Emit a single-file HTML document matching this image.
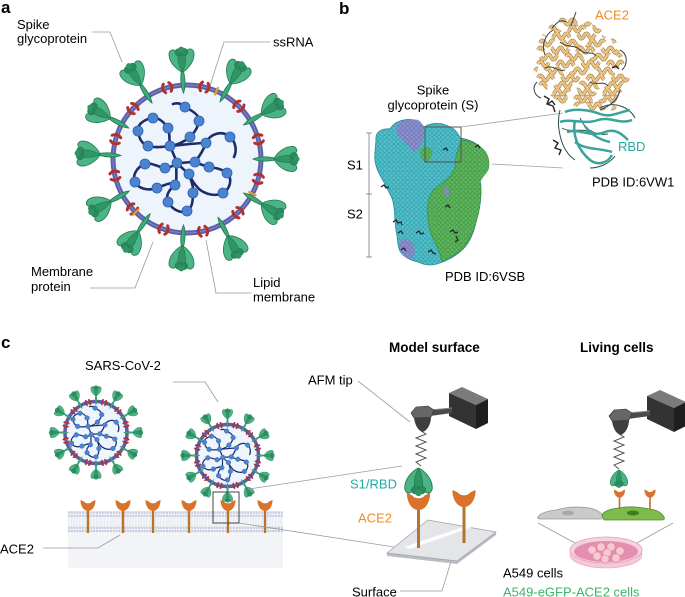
<!DOCTYPE html>
<html><head><meta charset="utf-8"><style>
html,body{margin:0;padding:0;background:#fff;}
svg{display:block;}
text{font-family:"Liberation Sans",Arial,sans-serif;}
</style></head><body>
<svg width="685" height="597" viewBox="0 0 685 597" xmlns="http://www.w3.org/2000/svg" xmlns:xlink="http://www.w3.org/1999/xlink">
<defs>
 <g id="shead">
  <path d="M0,-13 C-3,-14 -12,-21 -12.5,-30 C-13,-35 -9,-37 -6.5,-35 C-4,-33 -2,-30 0,-30 C2,-30 4,-33 6.5,-35 C9,-37 13,-35 12.5,-30 C12,-21 3,-14 0,-13Z" fill="#4cb385" stroke="#1f7a50" stroke-width="0.8"/>
  <path d="M0,-13 C-3,-18 -4.5,-26 -3.5,-31 L3.5,-31 C4.5,-26 3,-18 0,-13Z" fill="#2f9466" stroke="#1f7a50" stroke-width="0.6"/>
  <circle cx="-2.8" cy="-33" r="3.6" fill="#2a8a5e" stroke="#1f7a50" stroke-width="0.6"/>
  <circle cx="2.8" cy="-33" r="3.6" fill="#2a8a5e" stroke="#1f7a50" stroke-width="0.6"/>
  <circle cx="0" cy="-35.5" r="3" fill="#2f9466"/>
 </g>
 <g id="spk">
  <path d="M0,8 C2.6,2 3,-8 0,-18 C-3,-8 -2.6,2 0,8Z" fill="#3faa78" stroke="#1f7a50" stroke-width="0.8"/>
  <use xlink:href="#shead" href="#shead"/>
 </g>
 <g id="mp" fill="none" stroke="#b3302b" stroke-width="2.9" stroke-linecap="round">
  <path d="M-2.8,-4.5 C-5.2,-2 -5.2,2 -2.8,4.5"/>
  <path d="M2.8,-4.5 C5.2,-2 5.2,2 2.8,4.5"/>
 </g>
 <rect id="ep" x="-1.1" y="-4.5" width="2.2" height="9" fill="#e89a2c"/>
 <g id="rna">
  <g fill="none" stroke="#1f2a6b" stroke-width="2.6" stroke-linecap="round">
   <path d="M-14,-55 C-8,-57 -4,-54 -2,-52 C6,-48 13,-43 12,-38 C11,-31 7,-26 3,-22 C-3,-17 -10,-14 -17,-13"/>
   <path d="M-17,-13 C-18,-20 -17,-27 -19,-31 C-23,-37 -29,-42 -34,-41 C-42,-40 -50,-35 -49,-28 C-48,-20 -45,-15 -39,-13 C-32,-11 -24,-12 -17,-13"/>
   <path d="M-17,-13 C-5,-14 8,-16 19,-16 C22,-24 34,-30 43,-22 C49,-17 50,-8 47,-2"/>
   <path d="M19,-16 C16,-8 12,-2 8,3"/>
   <path d="M8,3 C13,5 17,7 22,8 C29,9 35,10 40,14 C46,20 43,30 36,34 C28,38 18,35 12,30 C7,25 4,20 2,15"/>
   <path d="M2,15 C4,22 7,28 6,34 C6,42 5,50 0,52 C-7,55 -15,50 -19,43 C-22,36 -17,30 -12,26 C-9,20 -12,10 -10,4"/>
   <path d="M-10,4 C-14,7 -18,9 -22,9 C-29,8 -36,3 -42,5 C-50,8 -55,16 -52,23 C-49,30 -38,32 -30,29 C-22,26 -15,22 -12,26"/>
   <path d="M-10,4 C-4,4 2,3 8,3 M-10,4 C-12,-2 -15,-8 -17,-13 M2,15 C-2,12 -6,8 -10,4"/>
  </g>
  <g fill="#4a83d0" stroke="#2d5fae" stroke-width="0.8">
   <circle cx="-2" cy="-52" r="5"/><circle cx="12" cy="-38" r="5"/><circle cx="3" cy="-22" r="5"/>
   <circle cx="-17" cy="-13" r="5"/><circle cx="-34" cy="-41" r="5"/><circle cx="-19" cy="-31" r="5"/>
   <circle cx="-49" cy="-28" r="5"/><circle cx="-39" cy="-13" r="5"/><circle cx="43" cy="-22" r="5"/>
   <circle cx="19" cy="-16" r="5"/><circle cx="8" cy="3" r="5"/><circle cx="22" cy="8" r="5"/>
   <circle cx="40" cy="14" r="5"/><circle cx="36" cy="34" r="5"/><circle cx="-10" cy="4" r="5"/>
   <circle cx="2" cy="15" r="5"/><circle cx="-42" cy="5" r="5"/><circle cx="-22" cy="9" r="5"/>
   <circle cx="-52" cy="23" r="5"/><circle cx="-30" cy="29" r="5"/><circle cx="-12" cy="26" r="5"/>
   <circle cx="6" cy="34" r="5"/><circle cx="-19" cy="43" r="5"/><circle cx="0" cy="52" r="5"/>
  </g>
 </g>
 <path id="cup" d="M-7.5,0 L-4,1.5 C-2.5,4 2.5,4 4,1.5 L7.5,0 C7.5,6.5 4,11 0,11 C-4,11 -7.5,6.5 -7.5,0Z" fill="#d9732a"/>
 <pattern id="bump" width="4.5" height="4.5" patternUnits="userSpaceOnUse">
  <circle cx="2.25" cy="2.25" r="1.8" fill="none" stroke="#000" stroke-opacity="0.22" stroke-width="0.6"/>
 </pattern>
 <g id="hel" fill="none" stroke-dasharray="26 11">
  <path d="M560,22 q2.5,-5 5,0 t5,0 t5,0 t5,0 t5,0 t5,0" stroke-dashoffset="0"/>
  <path d="M550,29 q2.5,-5 5,0 t5,0 t5,0 t5,0 t5,0 t5,0 t5,0 t5,0 t5,0 t5,0" stroke-dashoffset="12"/>
  <path d="M544,36 q2.5,-5 5,0 t5,0 t5,0 t5,0 t5,0 t5,0 t5,0 t5,0 t5,0 t5,0 t5,0 t5,0" stroke-dashoffset="25"/>
  <path d="M540,43 q2.5,-5 5,0 t5,0 t5,0 t5,0 t5,0 t5,0 t5,0 t5,0 t5,0 t5,0 t5,0 t5,0 t5,0 t5,0 t5,0" stroke-dashoffset="6"/>
  <path d="M538,50 q2.5,-5 5,0 t5,0 t5,0 t5,0 t5,0 t5,0 t5,0 t5,0 t5,0 t5,0 t5,0 t5,0 t5,0 t5,0 t5,0 t5,0" stroke-dashoffset="18"/>
  <path d="M536,57 q2.5,-5 5,0 t5,0 t5,0 t5,0 t5,0 t5,0 t5,0 t5,0 t5,0 t5,0 t5,0 t5,0 t5,0 t5,0 t5,0 t5,0 t5,0" stroke-dashoffset="30"/>
  <path d="M538,64 q2.5,-5 5,0 t5,0 t5,0 t5,0 t5,0 t5,0 t5,0 t5,0 t5,0 t5,0 t5,0 t5,0 t5,0 t5,0 t5,0 t5,0 t5,0" stroke-dashoffset="10"/>
  <path d="M535,71 q2.5,-5 5,0 t5,0 t5,0 t5,0 t5,0 t5,0 t5,0 t5,0 t5,0 t5,0 t5,0 t5,0 t5,0 t5,0 t5,0 t5,0 t5,0" stroke-dashoffset="22"/>
  <path d="M538,78 q2.5,-5 5,0 t5,0 t5,0 t5,0 t5,0 t5,0 t5,0 t5,0 t5,0 t5,0 t5,0 t5,0 t5,0 t5,0 t5,0 t5,0 t5,0 t5,0" stroke-dashoffset="3"/>
  <path d="M540,85 q2.5,-5 5,0 t5,0 t5,0 t5,0 t5,0 t5,0 t5,0 t5,0 t5,0 t5,0 t5,0 t5,0 t5,0 t5,0 t5,0 t5,0 t5,0" stroke-dashoffset="15"/>
  <path d="M545,92 q2.5,-5 5,0 t5,0 t5,0 t5,0 t5,0 t5,0 t5,0 t5,0 t5,0 t5,0 t5,0 t5,0 t5,0 t5,0 t5,0 t5,0" stroke-dashoffset="27"/>
  <path d="M555,99 q2.5,-5 5,0 t5,0 t5,0 t5,0 t5,0 t5,0 t5,0 t5,0 t5,0 t5,0 t5,0 t5,0 t5,0" stroke-dashoffset="8"/>
  <path d="M575,106 q2.5,-5 5,0 t5,0 t5,0 t5,0 t5,0 t5,0 t5,0 t5,0" stroke-dashoffset="20"/>
 </g>
 <g id="afm">
  <polygon points="449,393 462,387 488,399 476,405" fill="#7b7b7b"/>
  <polygon points="449,393 476,405 476,429 449,416" fill="#333"/>
  <polygon points="476,405 488,399 488,423 476,429" fill="#1e1e1e"/>
  <polygon points="430,410 452,408 452,413 430,416" fill="#4a4a4a"/>
  <line x1="430" y1="410" x2="452" y2="408" stroke="#8a8a8a" stroke-width="1"/>
  <polygon points="411,413 416,407 428,406 434,410 431,417 414,418" fill="#666" stroke="#333" stroke-width="0.6"/>
  <path d="M414,418 L431,417 C431,423 428,430 423,432 C418,431 415,425 414,418Z" fill="#3e3e3e"/>
  <polyline points="421,431 426,434 416,438 426,442 416,446 426,450 416,454 426,458 416,462 421,466" fill="none" stroke="#555" stroke-width="1"/>
 </g>
</defs>

<!-- ===== Panel a ===== -->
<text x="1" y="13" font-size="17" font-weight="bold">a</text>
<text x="17" y="29" font-size="13">Spike</text>
<text x="17" y="43" font-size="13">glycoprotein</text>
<text x="273" y="46.5" font-size="13">ssRNA</text>
<text x="31" y="276" font-size="13">Membrane</text>
<text x="31" y="291" font-size="13">protein</text>
<text x="253" y="287" font-size="13">Lipid</text>
<text x="253" y="301.5" font-size="13">membrane</text>
<g fill="none" stroke="#9a9a9a" stroke-width="0.8">
 <polyline points="92,32 110,32 122,62"/>
 <polyline points="270,42 224,42 200,117"/>
 <polyline points="90,288 135,288 153,242"/>
 <polyline points="252,293 216,293 206,240"/>
</g>
<circle cx="187" cy="159" r="74" fill="#edf4fc" stroke="#5a5fa7" stroke-width="5"/>
<circle cx="187" cy="159" r="74" fill="none" stroke="#7d82c4" stroke-width="1.2"/>
<use href="#rna" xlink:href="#rna" transform="translate(187,159)"/>
<g transform="translate(187,159)">
 <use href="#mp" transform="rotate(13.5) translate(0,-74)"/>
 <use href="#mp" transform="rotate(44.5) translate(0,-74)"/>
 <use href="#mp" transform="rotate(74.5) translate(0,-74)"/>
 <use href="#mp" transform="rotate(105.5) translate(0,-74)"/>
 <use href="#mp" transform="rotate(136.5) translate(0,-74)"/>
 <use href="#mp" transform="rotate(167.5) translate(0,-74)"/>
 <use href="#mp" transform="rotate(198.5) translate(0,-74)"/>
 <use href="#mp" transform="rotate(227.5) translate(0,-74)"/>
 <use href="#mp" transform="rotate(257) translate(0,-74)"/>
 <use href="#mp" transform="rotate(285.5) translate(0,-74)"/>
 <use href="#mp" transform="rotate(313) translate(0,-74)"/>
 <use href="#mp" transform="rotate(344.5) translate(0,-74)"/>
 <use href="#ep" transform="rotate(23.5) translate(0,-74)"/>
 <use href="#ep" transform="rotate(118) translate(0,-74)"/>
 <use href="#ep" transform="rotate(224) translate(0,-74)"/>
 <use href="#spk" transform="rotate(-3) translate(0,-74)"/>
 <use href="#spk" transform="rotate(30) translate(0,-74)"/>
 <use href="#spk" transform="rotate(59) translate(0,-74)"/>
 <use href="#spk" transform="rotate(90) translate(0,-74)"/>
 <use href="#spk" transform="rotate(121) translate(0,-74)"/>
 <use href="#spk" transform="rotate(152) translate(0,-74)"/>
 <use href="#spk" transform="rotate(183) translate(0,-74)"/>
 <use href="#spk" transform="rotate(214) translate(0,-74)"/>
 <use href="#spk" transform="rotate(241) translate(0,-74)"/>
 <use href="#spk" transform="rotate(273) translate(0,-74)"/>
 <use href="#spk" transform="rotate(298) translate(0,-74)"/>
 <use href="#spk" transform="rotate(328) translate(0,-74)"/>
</g>

<!-- ===== Panel b ===== -->
<text x="339" y="14" font-size="17" font-weight="bold">b</text>
<text x="433" y="94.5" font-size="13" text-anchor="middle">Spike</text>
<text x="433" y="109.5" font-size="13" text-anchor="middle">glycoprotein (S)</text>
<text x="347" y="169.5" font-size="13">S1</text>
<text x="347" y="218.7" font-size="13">S2</text>
<text x="445" y="281" font-size="13">PDB ID:6VSB</text>
<text x="592" y="186.7" font-size="13">PDB ID:6VW1</text>
<text x="595" y="19.5" font-size="13" fill="#ee8c26">ACE2</text>
<text x="618" y="151" font-size="13" fill="#27aaa2">RBD</text>
<g stroke="#8a8a8a" stroke-width="0.9" fill="none">
 <line x1="369" y1="133" x2="369" y2="257"/>
 <line x1="366" y1="133" x2="372" y2="133"/>
 <line x1="366" y1="194" x2="372" y2="194"/>
 <line x1="366" y1="257" x2="372" y2="257"/>
</g>
<!-- protein -->
<path d="M376,140 C375,132 382,128 390,129 C393,124 398,121 404,120 C412,118 420,121 424,127 C430,123 440,122 448,126 C454,128 458,133 460,138 C466,139 474,141 480,147 C486,152 490,160 488,168 C486,174 482,176 480,180 C482,190 481,205 477,218 C474,232 470,243 462,250 C456,256 448,260 440,263 C432,266 424,265 418,262 C410,260 403,257 400,251 C397,245 398,238 396,230 C394,220 396,210 392,198 C388,190 384,182 380,175 C376,168 374,160 375,152 Z" fill="#4ec3cf" stroke="#2f97a3" stroke-width="0.9"/>
<path d="M398,124 C402,120 410,118 418,120 C423,122 425,130 423,138 C421,145 418,150 414,152 C410,148 405,142 400,138 C396,134 395,128 398,124Z" fill="#8c92d6"/>
<path d="M402,240 C406,238 412,240 414,246 C416,252 414,258 410,259 C405,258 401,254 400,250 C399,246 399,242 402,240Z" fill="#8c92d6"/>
<path d="M455,168 C455,158 458,146 462,140 C470,141 478,144 484,150 C489,156 490,164 488,170 C485,175 481,178 480,182 C482,195 480,210 476,222 C472,236 467,246 459,252 C453,256 447,259 442,262 C440,252 436,244 432,236 C428,226 427,214 428,204 C429,196 432,190 438,186 C444,182 450,178 455,168Z" fill="#5cb85c" stroke="#3f9a44" stroke-width="0.7"/>
<path d="M420,150 C424,146 430,146 432,150 C433,155 431,160 427,162 C423,162 420,158 420,150Z" fill="#5cb85c"/>
<path d="M445,186 C447,185 449,188 449,193 C449,197 447,199 446,197 C445,194 444,189 445,186Z" fill="#8c92d6"/>
<path d="M376,140 C375,132 382,128 390,129 C393,124 398,121 404,120 C412,118 420,121 424,127 C430,123 440,122 448,126 C454,128 458,133 460,138 C466,139 474,141 480,147 C486,152 490,160 488,168 C486,174 482,176 480,180 C482,190 481,205 477,218 C474,232 470,243 462,250 C456,256 448,260 440,263 C432,266 424,265 418,262 C410,260 403,257 400,251 C397,245 398,238 396,230 C394,220 396,210 392,198 C388,190 384,182 380,175 C376,168 374,160 375,152 Z" fill="url(#bump)"/>
<g fill="none" stroke="#222" stroke-width="1.2">
 <path d="M381,187 l3,-2 l2,3 l3,-1"/>
 <path d="M393,222 l3,-2 l2,3 l3,-1 l1,3"/>
 <path d="M398,233 l3,-2 l2,3"/>
 <path d="M416,233 l3,-2 l2,3 l3,-1"/>
 <path d="M401,250 l3,-2 l2,3"/>
 <path d="M428,252 l3,-2 l2,3 l3,1"/>
 <path d="M450,232 l3,-2 l2,3 l3,-1"/>
 <path d="M443,150 l3,-2 l2,3"/>
 <path d="M475,147 l3,-2 l2,3"/>
 <path d="M445,207 l3,-2 l2,3"/>
 <path d="M456,236 l2,4 l-3,2"/>
</g>
<rect x="425" y="127" width="36" height="35" fill="none" stroke="#555" stroke-width="1"/>
<g stroke="#a0a0a0" stroke-width="0.8">
 <line x1="461" y1="127" x2="563" y2="113"/>
 <line x1="492" y1="164" x2="563" y2="168"/>
</g>
<!-- ACE2 ribbons -->
<use href="#hel" xlink:href="#hel" stroke="#8a6c40" stroke-width="3.8"/>
<use href="#hel" xlink:href="#hel" stroke="#ecc27f" stroke-width="2.8"/>
<g fill="none" stroke="#3d3d3d" stroke-width="1">
 <path d="M576,12 l-5,14"/>
 <path d="M553,30 c-8,5 -12,15 -8,25"/>
 <path d="M620,50 c8,4 8,14 2,20"/>
 <path d="M537,82 c-6,6 -2,14 4,16"/>
 <path d="M600,110 c10,-4 18,-10 20,-20"/>
 <path d="M560,42 c6,6 14,2 20,8 c6,6 12,0 16,6"/>
 <path d="M545,68 c8,-4 12,4 20,2"/>
 <path d="M590,82 c6,4 14,-2 18,4"/>
 <path d="M566,22 c-6,-4 -10,2 -14,6"/>
</g>
<g fill="none" stroke="#222" stroke-width="1.4">
 <path d="M544,96 l5,3 l-2,5 l6,2 l2,6"/>
 <path d="M548,104 l4,-3 l3,4"/>
 <path d="M612,68 l4,-2 l3,3"/>
</g>
<!-- RBD ribbons -->
<g fill="none" stroke="#2d4f4d" stroke-width="1">
 <path d="M560,110 C556,125 560,150 575,160"/>
 <path d="M600,108 C615,100 630,108 635,118"/>
 <path d="M590,168 c10,0 20,-5 25,-12"/>
 <path d="M562,128 c10,6 22,-2 30,6"/>
 <path d="M580,118 c4,10 14,18 28,16"/>
</g>
<g fill="none" stroke="#3aa39b" stroke-width="2.5">
 <path d="M565,112 C575,108 590,110 600,114 C610,118 620,112 630,110"/>
 <path d="M560,122 C570,118 585,125 598,120 C610,116 620,125 632,120"/>
 <path d="M567,132 C580,128 590,138 605,132 C615,128 622,134 628,140"/>
 <path d="M575,142 C585,150 600,148 612,152"/>
 <path d="M575,120 C572,135 578,150 590,160 C598,166 608,163 612,155"/>
 <path d="M585,126 C590,134 600,140 610,142"/>
</g>
<path d="M553,140 l5,3 l-3,5 l6,2 l-2,5" fill="none" stroke="#222" stroke-width="1.4"/>

<!-- ===== Panel c ===== -->
<text x="1" y="348" font-size="17" font-weight="bold">c</text>
<text x="85" y="370" font-size="13">SARS-CoV-2</text>
<text x="389" y="352" font-size="13.5" font-weight="bold">Model surface</text>
<text x="580" y="352" font-size="13.5" font-weight="bold">Living cells</text>
<text x="308" y="384.5" font-size="13">AFM tip</text>
<text x="350" y="488.5" font-size="13" fill="#22a9a5">S1/RBD</text>
<text x="358" y="522.7" font-size="13" fill="#ee8c26">ACE2</text>
<text x="0" y="553.5" font-size="13">ACE2</text>
<text x="182" y="555" font-size="13">Cell membrane</text>
<text x="352" y="596.5" font-size="13">Surface</text>
<text x="503" y="577.7" font-size="13">A549 cells</text>
<text x="503" y="596.5" font-size="13" fill="#3db36b">A549-eGFP-ACE2 cells</text>

<!-- cell membrane -->
<rect x="68" y="511" width="215" height="57" fill="#f3f4f8"/>
<line x1="68" y1="521.6" x2="283" y2="521.6" stroke="#e4e6f1" stroke-width="11" stroke-dasharray="0.6 2.2"/>
<g stroke="#c6cae0" stroke-width="2.2" stroke-dasharray="2 0.8">
 <line x1="68" y1="512.5" x2="283" y2="512.5"/>
 <line x1="68" y1="515.8" x2="283" y2="515.8"/>
 <line x1="68" y1="527.8" x2="283" y2="527.8"/>
 <line x1="68" y1="531" x2="283" y2="531"/>
</g>
<g fill="#b8732e">
 <rect x="86.8" y="509" width="2.4" height="24"/>
 <rect x="121.8" y="509" width="2.4" height="24"/>
 <rect x="151.8" y="509" width="2.4" height="24"/>
 <rect x="187.8" y="509" width="2.4" height="24"/>
 <rect x="226.8" y="509" width="2.4" height="24"/>
 <rect x="263.8" y="509" width="2.4" height="24"/>
</g>
<use href="#cup" transform="translate(88,500)"/>
<use href="#cup" transform="translate(123,500)"/>
<use href="#cup" transform="translate(153,500)"/>
<use href="#cup" transform="translate(189,500)"/>
<use href="#cup" transform="translate(228,500)"/>
<use href="#cup" transform="translate(265,500)"/>

<!-- small virus 1 -->
<circle cx="96" cy="432.5" r="31" fill="#eef5fd" stroke="#5a5fa7" stroke-width="3.5"/>
<use href="#rna" transform="translate(96,432.5) scale(0.47)"/>
<g transform="translate(96,432.5)">
 <use href="#mp" transform="rotate(15) translate(0,-31) scale(0.55)"/>
 <use href="#mp" transform="rotate(45) translate(0,-31) scale(0.55)"/>
 <use href="#mp" transform="rotate(75) translate(0,-31) scale(0.55)"/>
 <use href="#mp" transform="rotate(105) translate(0,-31) scale(0.55)"/>
 <use href="#mp" transform="rotate(135) translate(0,-31) scale(0.55)"/>
 <use href="#mp" transform="rotate(165) translate(0,-31) scale(0.55)"/>
 <use href="#mp" transform="rotate(195) translate(0,-31) scale(0.55)"/>
 <use href="#mp" transform="rotate(225) translate(0,-31) scale(0.55)"/>
 <use href="#mp" transform="rotate(255) translate(0,-31) scale(0.55)"/>
 <use href="#mp" transform="rotate(285) translate(0,-31) scale(0.55)"/>
 <use href="#mp" transform="rotate(315) translate(0,-31) scale(0.55)"/>
 <use href="#mp" transform="rotate(345) translate(0,-31) scale(0.55)"/>
 <use href="#spk" transform="rotate(0) translate(0,-31) scale(0.42)"/>
 <use href="#spk" transform="rotate(30) translate(0,-31) scale(0.42)"/>
 <use href="#spk" transform="rotate(60) translate(0,-31) scale(0.42)"/>
 <use href="#spk" transform="rotate(90) translate(0,-31) scale(0.42)"/>
 <use href="#spk" transform="rotate(120) translate(0,-31) scale(0.42)"/>
 <use href="#spk" transform="rotate(150) translate(0,-31) scale(0.42)"/>
 <use href="#spk" transform="rotate(180) translate(0,-31) scale(0.42)"/>
 <use href="#spk" transform="rotate(210) translate(0,-31) scale(0.42)"/>
 <use href="#spk" transform="rotate(240) translate(0,-31) scale(0.42)"/>
 <use href="#spk" transform="rotate(270) translate(0,-31) scale(0.42)"/>
 <use href="#spk" transform="rotate(300) translate(0,-31) scale(0.42)"/>
 <use href="#spk" transform="rotate(330) translate(0,-31) scale(0.42)"/>
</g>
<!-- small virus 2 -->
<circle cx="227.5" cy="455.5" r="31" fill="#eef5fd" stroke="#5a5fa7" stroke-width="3.5"/>
<use href="#rna" transform="translate(227.5,455.5) scale(0.47)"/>
<g transform="translate(227.5,455.5)">
 <use href="#mp" transform="rotate(15) translate(0,-31) scale(0.55)"/>
 <use href="#mp" transform="rotate(45) translate(0,-31) scale(0.55)"/>
 <use href="#mp" transform="rotate(75) translate(0,-31) scale(0.55)"/>
 <use href="#mp" transform="rotate(105) translate(0,-31) scale(0.55)"/>
 <use href="#mp" transform="rotate(135) translate(0,-31) scale(0.55)"/>
 <use href="#mp" transform="rotate(165) translate(0,-31) scale(0.55)"/>
 <use href="#mp" transform="rotate(195) translate(0,-31) scale(0.55)"/>
 <use href="#mp" transform="rotate(225) translate(0,-31) scale(0.55)"/>
 <use href="#mp" transform="rotate(255) translate(0,-31) scale(0.55)"/>
 <use href="#mp" transform="rotate(285) translate(0,-31) scale(0.55)"/>
 <use href="#mp" transform="rotate(315) translate(0,-31) scale(0.55)"/>
 <use href="#mp" transform="rotate(345) translate(0,-31) scale(0.55)"/>
 <use href="#spk" transform="rotate(0) translate(0,-31) scale(0.42)"/>
 <use href="#spk" transform="rotate(30) translate(0,-31) scale(0.42)"/>
 <use href="#spk" transform="rotate(60) translate(0,-31) scale(0.42)"/>
 <use href="#spk" transform="rotate(90) translate(0,-31) scale(0.42)"/>
 <use href="#spk" transform="rotate(120) translate(0,-31) scale(0.42)"/>
 <use href="#spk" transform="rotate(150) translate(0,-31) scale(0.42)"/>
 <use href="#spk" transform="rotate(180) translate(0,-31) scale(0.42)"/>
 <use href="#spk" transform="rotate(210) translate(0,-31) scale(0.42)"/>
 <use href="#spk" transform="rotate(240) translate(0,-31) scale(0.42)"/>
 <use href="#spk" transform="rotate(270) translate(0,-31) scale(0.42)"/>
 <use href="#spk" transform="rotate(300) translate(0,-31) scale(0.42)"/>
 <use href="#spk" transform="rotate(330) translate(0,-31) scale(0.42)"/>
</g>
<rect x="213" y="492" width="26" height="31" fill="none" stroke="#444" stroke-width="1"/>

<!-- connectors c -->
<g fill="none" stroke="#9a9a9a" stroke-width="0.8">
 <polyline points="173,382 205,382 218,402"/>
 <polyline points="43,548 98,548 120,535"/>
 <line x1="249" y1="489" x2="402" y2="466"/>
 <line x1="239" y1="523" x2="407" y2="549"/>
 <line x1="358" y1="381" x2="410" y2="422"/>
 <polyline points="400,591 442,591 452,558"/>
 <line x1="538" y1="523" x2="575" y2="543"/>
 <line x1="673" y1="523" x2="637" y2="543"/>
</g>

<!-- model surface -->
<polygon points="387,553 457,561 496,532 496,535 457,564 387,556" fill="#b9bcc2"/>
<polygon points="387,553 428,520 496,532 457,561" fill="#e3e5e9" stroke="#9da1a8" stroke-width="0.7"/>
<polygon points="404,547 478,522 484,523 410,549" fill="#ffffff" opacity="0.9"/>
<rect x="417" y="508" width="3" height="40" fill="#b37431"/>
<rect x="462.5" y="505" width="3" height="38" fill="#b37431"/>
<use href="#cup" transform="translate(418.5,493) scale(1.55)"/>
<use href="#cup" transform="translate(464,490) scale(1.55)"/>
<use href="#shead" transform="translate(418.5,453.7) scale(1.1) rotate(180)"/>
<use href="#afm"/>

<!-- living cells -->
<use href="#afm" transform="translate(198,3)"/>
<use href="#shead" transform="translate(619,460.9) scale(0.7) rotate(180)"/>
<path d="M538,517 C540,513 548,511 556,510 C566,507 576,506 590,508 C598,510 601,513 602,515 L602,519 L541,519 C538,519 537,518 538,517Z" fill="#cacaca" stroke="#9a9a9a" stroke-width="0.8"/>
<ellipse cx="568" cy="513" rx="6" ry="2.5" fill="#a9a9a9"/>
<path d="M602,515 C604,511 610,509 618,508 C628,506 640,507 650,509 C657,510 662,513 664,517 C665,519 664,520 662,520 L604,520 Z" fill="#7fba4c" stroke="#4c8c2c" stroke-width="0.8"/>
<ellipse cx="633" cy="513" rx="6" ry="2.5" fill="#3f7a25"/>
<rect x="618.7" y="496" width="1.6" height="13" fill="#b37431"/>
<rect x="649.2" y="496" width="1.6" height="13" fill="#b37431"/>
<use href="#cup" transform="translate(619.5,489.5) scale(0.75)"/>
<use href="#cup" transform="translate(650,489.5) scale(0.75)"/>
<!-- petri dish -->
<path d="M570,550 L570,555 A36,13 0 0 0 642,555 L642,550 Z" fill="#f6c7d6"/>
<ellipse cx="606" cy="555" rx="36" ry="13" fill="#f6c7d6" stroke="#e6a9bf" stroke-width="0.6"/>
<ellipse cx="606" cy="550" rx="36" ry="13" fill="#f3d3de" stroke="#e0a3b8" stroke-width="0.8"/>
<ellipse cx="606" cy="551.5" rx="32" ry="10.5" fill="#e58fb0"/>
<g fill="#f8c9d2" stroke="#d9849c" stroke-width="0.6">
 <circle cx="592" cy="550" r="4.2"/><circle cx="601" cy="547" r="4.2"/><circle cx="611" cy="547" r="4.2"/>
 <circle cx="620" cy="551" r="4.2"/><circle cx="597" cy="556" r="4.2"/><circle cx="607" cy="553" r="4.2"/>
 <circle cx="616" cy="558" r="4.2"/><circle cx="605" cy="559" r="4"/>
</g>
</svg>
</body></html>
